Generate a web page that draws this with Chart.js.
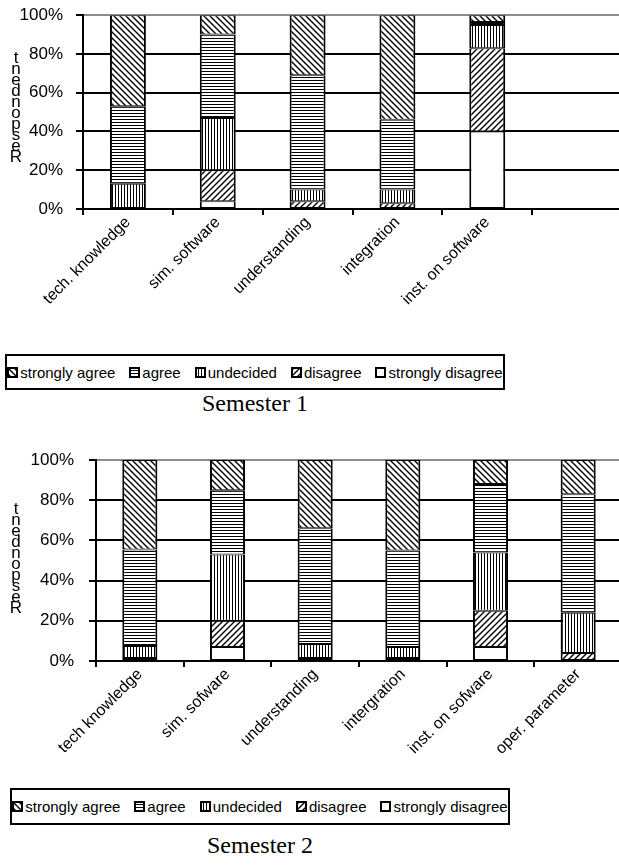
<!DOCTYPE html>
<html>
<head>
<meta charset="utf-8">
<script src="https://cdn.jsdelivr.net/npm/chart.js@4.4.1/dist/chart.umd.min.js"></script>
<style>
    body { margin: 0; background: #fff; width: 619px; height: 866px; overflow: hidden; position: relative; font-family: 'Liberation Sans', Arial, sans-serif; }
    .wrap { position: absolute; left: 0; width: 622px; }
    .ytitle { position: absolute; left: 9px; width: 14px; text-align: center; font-size: 17px; line-height: 11px; color: #000; }
    .legend { position: absolute; border: 2px solid #000; box-sizing: border-box; display: flex; align-items: center; justify-content: center; gap: 14px; font-size: 15px; color: #000; }
    .legend span.item { display: flex; align-items: center; white-space: nowrap; }
    .legend i { display: inline-block; width: 7px; height: 7px; border: 2px solid #000; margin-right: 2px; background-color: #fff; }
    .caption { position: absolute; left: 0; width: 510px; text-align: center; font-family: 'Liberation Serif', 'Times New Roman', serif; font-size: 24px; color: #000; }
</style>
</head>
<body>
<div class="wrap" style="top:-8px;height:358px"><canvas id="chart1"></canvas></div>
<div class="ytitle" style="top:52px">t<br>n<br>e<br>d<br>n<br>o<br>p<br>s<br>e<br>R</div>
<div class="legend" id="legend1" style="left:5px;top:354px;width:500px;height:36px"></div>
<div class="caption" style="top:390px">Semester 1</div>

<div class="wrap" style="top:430px;height:355px"><canvas id="chart2"></canvas></div>
<div class="ytitle" style="top:503px">t<br>n<br>e<br>d<br>n<br>o<br>p<br>s<br>e<br>R</div>
<div class="legend" id="legend2" style="left:10px;top:788px;width:500px;height:37px"></div>
<div class="caption" style="top:832px;left:5px">Semester 2</div>

<script>
// semester 1
const labels1 = ['tech. knowledge', 'sim. software', 'understanding', 'integration', 'inst. on software', '']
const s1StronglyDisagree = [0, 4, 0, 0, 40, 0]
const s1Disagree = [0, 16, 4, 3, 43, 0]
const s1Undecided = [13, 27, 6, 7, 12, 0]
const s1Agree = [40, 43, 59, 36, 1.5, 0]
const s1StronglyAgree = [47, 10, 31, 54, 3.5, 0]

// semester 2
const labels2 = ['tech knowledge', 'sim. sofware', 'understanding', 'intergration', 'inst. on sofware', 'oper. parameter']
const s2StronglyDisagree = [0, 7, 0, 0, 7, 0]
const s2Disagree = [1.5, 13, 1.5, 1.5, 18, 4]
const s2Undecided = [6, 33, 7, 5.5, 29, 20]
const s2Agree = [48, 32, 57.5, 48, 34, 59]
const s2StronglyAgree = [44.5, 15, 34, 45, 12, 17]

const yTicks = [0, 20, 40, 60, 80, 100]
const seriesNames = ['strongly agree', 'agree', 'undecided', 'disagree', 'strongly disagree']

function makeTile(kind) {
    const c = document.createElement('canvas')
    const size = kind === 'hline' || kind === 'vline' ? 3 : 6
    c.width = size
    c.height = size
    const g = c.getContext('2d')
    g.fillStyle = '#fff'
    g.fillRect(0, 0, size, size)
    g.fillStyle = '#000'
    g.strokeStyle = '#000'
    g.lineWidth = 1.4
    if (kind === 'hline') g.fillRect(0, 1, size, 1)
    else if (kind === 'vline') g.fillRect(1, 0, 1, size)
    else if (kind === 'bdiag') {
        g.beginPath()
        g.moveTo(-1, -1); g.lineTo(size + 1, size + 1)
        g.moveTo(-1, size - 1); g.lineTo(1, size + 1)
        g.moveTo(size - 1, -1); g.lineTo(size + 1, 1)
        g.stroke()
    } else if (kind === 'fdiag') {
        g.beginPath()
        g.moveTo(-1, size + 1); g.lineTo(size + 1, -1)
        g.moveTo(-1, 1); g.lineTo(1, -1)
        g.moveTo(size - 1, size + 1); g.lineTo(size + 1, size - 1)
        g.stroke()
    }
    return c
}

const tiles = {
    'strongly agree': makeTile('bdiag'),
    'agree': makeTile('hline'),
    'undecided': makeTile('vline'),
    'disagree': makeTile('fdiag'),
    'strongly disagree': makeTile('blank'),
}

function fillFor(name) {
    const ctx = document.createElement('canvas').getContext('2d')
    return ctx.createPattern(tiles[name], 'repeat')
}

function dataset(name, data) {
    return {
        label: name,
        // empty segments are left out so they draw no border
        data: data.map(v => v === 0 ? null : v),
        backgroundColor: fillFor(name),
        borderColor: '#000',
        borderWidth: { top: 1, bottom: 1, left: 2, right: 2 },
        borderSkipped: false,
        inflateAmount: 0,
        categoryPercentage: 1,
        barPercentage: 0.4,
    }
}

function makeChart(id, labels, sets, yWidth, xHeight, padTop, tickPad) {
    return new Chart(document.getElementById(id), {
        type: 'bar',
        data: {
            labels: labels,
            datasets: [
                dataset('strongly disagree', sets[0]),
                dataset('disagree', sets[1]),
                dataset('undecided', sets[2]),
                dataset('agree', sets[3]),
                dataset('strongly agree', sets[4]),
            ]
        },
        options: {
            responsive: true,
            maintainAspectRatio: false,
            animation: false,
            layout: { padding: { top: padTop, left: 0, right: 0, bottom: 0 } },
            plugins: { legend: { display: false }, tooltip: { enabled: false } },
            scales: {
                x: {
                    stacked: true,
                    grid: { display: true, offset: true, drawOnChartArea: false, drawTicks: true, tickLength: 6, color: '#000', lineWidth: 2 },
                    border: { display: true, color: '#000', width: 2 },
                    ticks: {
                        color: '#000',
                        font: { family: "'Liberation Sans', Arial, sans-serif", size: 16 },
                        minRotation: 45,
                        maxRotation: 45,
                        autoSkip: false,
                        padding: -2,
                    },
                    afterFit: (s) => { s.height = xHeight }
                },
                y: {
                    stacked: true,
                    min: 0,
                    max: 100,
                    afterBuildTicks: (s) => { s.ticks = yTicks.map(v => ({ value: v })) },
                    ticks: {
                        color: '#000',
                        font: { family: "'Liberation Sans', Arial, sans-serif", size: 17 },
                        padding: tickPad,
                        callback: (v) => v + '%'
                    },
                    grid: {
                        color: (c) => c.tick && c.tick.value === 100 ? '#8c8c8c' : '#000',
                        tickColor: '#000',
                        lineWidth: 2,
                        tickLength: 7,
                    },
                    border: { display: true, color: '#000', width: 2 },
                    afterFit: (s) => { s.width = yWidth }
                }
            }
        }
    })
}

makeChart('chart1', labels1, [s1StronglyDisagree, s1Disagree, s1Undecided, s1Agree, s1StronglyAgree], 83, 141, 14, 13)
makeChart('chart2', labels2, [s2StronglyDisagree, s2Disagree, s2Undecided, s2Agree, s2StronglyAgree], 96, 124, 30, 15)

function buildLegend(id) {
    const el = document.getElementById(id)
    for (const name of seriesNames) {
        const item = document.createElement('span')
        item.className = 'item'
        const sw = document.createElement('i')
        sw.style.backgroundImage = 'url(' + tiles[name].toDataURL() + ')'
        item.appendChild(sw)
        item.appendChild(document.createTextNode(name))
        el.appendChild(item)
    }
}
buildLegend('legend1')
buildLegend('legend2')
</script>
</body>
</html>
